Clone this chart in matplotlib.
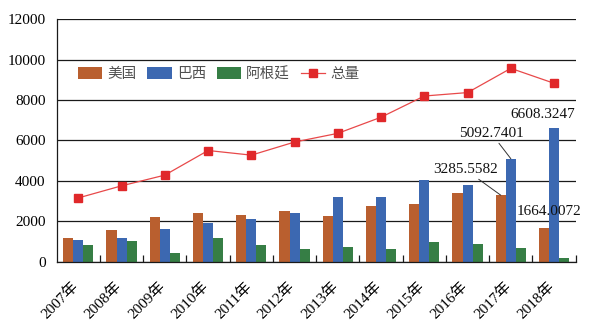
import matplotlib
matplotlib.use("Agg")
import matplotlib.pyplot as plt
import matplotlib.transforms as mtransforms
import numpy as np

years = ["2007年", "2008年", "2009年", "2010年", "2011年", "2012年",
         "2013年", "2014年", "2015年", "2016年", "2017年", "2018年"]
usa = [1170, 1580, 2200, 2400, 2300, 2500, 2250, 2750, 2850, 3400, 3285.5582, 1664.0072]
brazil = [1080, 1180, 1620, 1900, 2100, 2400, 3200, 3200, 4020, 3800, 5092.7401, 6608.3247]
argentina = [830, 1020, 430, 1170, 830, 630, 720, 630, 970, 870, 680, 180]
total = [3150, 3750, 4280, 5500, 5270, 5920, 6350, 7150, 8200, 8370, 9570, 8830]
series_names = ["美国", "巴西", "阿根廷", "总量"]

serif = ["Liberation Serif", "Noto Sans CJK SC", "DejaVu Sans"]
cjk = ["Noto Sans CJK SC", "DejaVu Sans"]

c_us = "#B95F2F"
c_br = "#3C68B1"
c_ar = "#367E45"
c_tot = "#E0282A"

fig = plt.figure(figsize=(5.92, 3.33), dpi=100)
ax = fig.add_axes([0.0958, 0.2147, 0.8767, 0.7273])

x = np.arange(len(years))
w = 0.233
b1 = ax.bar(x - w, usa, w, color=c_us, label=series_names[0], zorder=2)
b2 = ax.bar(x, brazil, w, color=c_br, label=series_names[1], zorder=2)
b3 = ax.bar(x + w, argentina, w, color=c_ar, label=series_names[2], zorder=2)
l1, = ax.plot(x, total, color="#E8494A", lw=0.9, marker="s", markersize=6.2,
              markerfacecolor=c_tot, markeredgecolor=c_tot, label=series_names[3], zorder=3)

ax.set_xlim(-0.5, len(years) - 0.5)
ax.set_ylim(0, 12000)
ax.set_yticks(np.arange(0, 12001, 2000))
ax.set_yticklabels([str(v) for v in range(0, 12001, 2000)], family=serif, fontsize=11)
ax.yaxis.grid(True, color="#1a1a1a", lw=0.9, zorder=0)
ax.set_axisbelow(True)
ax.tick_params(axis="y", length=0, pad=8)

# category boundary ticks (inward)
ax.set_xticks(np.arange(0.5, len(years) - 0.4, 1.0))
ax.set_xticklabels([])
ax.tick_params(axis="x", which="major", direction="in", length=5, width=0.9, color="#1a1a1a")
ax.set_xticks(x, minor=True)
ax.set_xticklabels(years, minor=True, rotation=45, ha="right", va="top",
                   family=serif, fontsize=11)
ax.tick_params(axis="x", which="minor", length=0, pad=13)
shift = mtransforms.ScaledTranslation(3 / 100, 0, fig.dpi_scale_trans)
for lbl in ax.get_xticklabels(minor=True):
    lbl.set_transform(lbl.get_transform() + shift)

for s in ["top", "right"]:
    ax.spines[s].set_visible(False)
ax.spines["left"].set_color("#1a1a1a")
ax.spines["bottom"].set_color("#1a1a1a")
ax.spines["left"].set_linewidth(0.9)
ax.spines["bottom"].set_linewidth(0.9)

# data labels
lab_kw = dict(family=serif, fontsize=11, color="#111111", ha="center", va="center", zorder=6)
arrow = dict(arrowstyle="-", color="#333333", lw=0.7, shrinkA=0, shrinkB=0)
ax.annotate(f"{brazil[10]:.4f}", xy=(10, brazil[10]), xytext=(9.56, 6318),
            arrowprops=arrow, **lab_kw)
ax.annotate(f"{usa[10]:.4f}", xy=(10 - w, usa[10]), xytext=(8.96, 4534),
            arrowprops=arrow, **lab_kw)
ax.annotate(f"{brazil[11]:.4f}", xy=(11, brazil[11]), xytext=(10.74, 7259), **lab_kw)
ax.annotate(f"{usa[11]:.4f}", xy=(11 - w, usa[11]), xytext=(10.88, 2453), **lab_kw)

leg = ax.legend([b1, b2, b3, l1], series_names, ncol=4, loc="center left",
                bbox_to_anchor=(0.03, 0.774), frameon=False,
                prop={"family": cjk, "size": 10.5}, handlelength=1.65, handleheight=0.9,
                handletextpad=0.35, columnspacing=0.75, borderaxespad=0)
for t in leg.get_texts():
    t.set_color("#505050")

fig.savefig("out.png", dpi=100)
